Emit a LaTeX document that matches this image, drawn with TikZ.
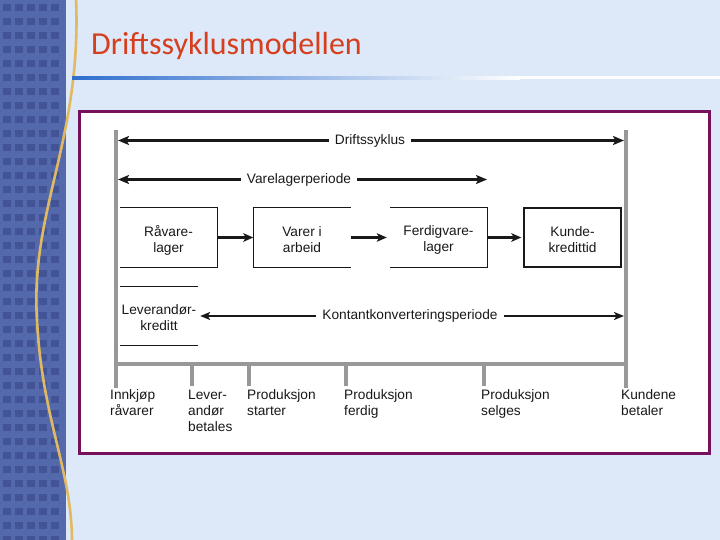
\documentclass[tikz,border=0pt]{standalone}
\usepackage{fontspec}
\setmainfont{Liberation Sans}
\newfontfamily\titlefont{Carlito}
\usetikzlibrary{arrows.meta}
\definecolor{bgblue}{RGB}{221,233,248}
\definecolor{stripblue}{RGB}{84,104,172}
\definecolor{winblue}{RGB}{66,84,150}
\definecolor{goldc}{RGB}{224,186,98}
\definecolor{titlered}{RGB}{214,62,30}
\definecolor{rulblue}{RGB}{46,110,206}
\definecolor{frameclr}{RGB}{118,18,92}
\definecolor{axisclr}{RGB}{152,152,152}
\definecolor{ink}{RGB}{25,25,25}
\begin{document}
\begin{tikzpicture}[x=1pt,y=-1pt,
  lbl/.style={font=\fontsize{13.7}{16}\selectfont, text=ink, inner sep=0pt, align=center},
  arrlbl/.style={lbl, inner xsep=6pt},
  bigarr/.style={draw=ink, line width=3.3pt, -{Stealth[length=11pt,width=9pt,inset=2.5pt]}},
  midarr/.style={draw=ink, line width=2.8pt, -{Stealth[length=10pt,width=8.5pt,inset=2.5pt]}},
  thinarr/.style={draw=ink, line width=2.3pt, -{Stealth[length=10pt,width=8pt,inset=2.5pt]}},
  boxline/.style={draw=ink, line width=1.3pt},
  axisline/.style={draw=axisclr, line width=4pt},
  stage/.style={inner sep=0pt, minimum width=97pt, minimum height=59pt},
  botlbl/.style={lbl, align=left, anchor=north west}]
\useasboundingbox (0,0) rectangle (720,540);
% background
\fill[bgblue] (0,0) rectangle (720,540);
\fill[stripblue] (0,0) rectangle (66,540);
\foreach \yy in {4,18,...,540} {
  \foreach \xx in {3,15,...,60} {
    \fill[winblue] (\xx,\yy) rectangle ++(8,7);
  }
}
\draw[goldc, line width=2.6pt] (76,-2) .. controls (82,140) and (30,210) .. (37,320) .. controls (42,420) and (72,470) .. (72,542);
% title
\node[anchor=base west, inner sep=0pt, text=titlered, font=\titlefont\fontsize{32}{36}\selectfont] (title) at (91,55) {Driftssyklusmodellen};
\shade[left color=rulblue, right color=white] (72,76.5) rectangle (520,79.5);
\fill[white] (520,76.5) rectangle (720,79.5);
% frame
\draw[frameclr, line width=3pt, fill=white] (79,112) rectangle (709,453);
% axis
\draw[axisline] (116,130) -- (116,388);
\draw[axisline] (626,130) -- (626,388);
\draw[axisline] (116,364) -- (626,364);
\foreach \tx in {192,249,346,484} { \draw[axisline] (\tx,364) -- (\tx,386); }
\coordinate (dsL) at (118,140.5);
\coordinate (dsR) at (624,140.5);
\coordinate (vlL) at (118,179.5);
\coordinate (vlR) at (487,179.5);
\coordinate (kkR) at (624,316);
% top arrows
\node[arrlbl] (ds) at (370,140.5) {Driftssyklus};
\draw[bigarr] (ds.west) -- (dsL);
\draw[bigarr] (ds.east) -- (dsR);
\node[arrlbl] (vl) at (299,179.5) {Varelagerperiode};
\draw[bigarr] (vl.west) -- (vlL);
\draw[bigarr] (vl.east) -- (vlR);
% stage boxes
\node[stage] (rv) at (168.5,237.5) {};
\node[stage] (va) at (302,237.5) {};
\node[stage] (fv) at (438.5,237.5) {};
\node[stage, boxline] (kd) at (572.5,237.5) {};
\node[lbl] (rvt) at ([yshift=-2.5pt]rv.center) {Råvare-\\lager};
\node[lbl] (vat) at ([yshift=-2.5pt]va.center) {Varer i\\arbeid};
\node[lbl] (fvt) at ([yshift=-2.5pt]fv.center) {Ferdigvare-\\lager};
\node[lbl] (kdt) at ([yshift=-2.5pt]kd.center) {Kunde-\\kredittid};
\draw[boxline] (rv.north west) -- (rv.north east) -- (rv.south east) -- (rv.south west);
\draw[boxline] (va.north east) -- (va.north west) -- (va.south west) -- (va.south east);
\draw[boxline] (fv.north west) -- (fv.north east) -- (fv.south east) -- (fv.south west);
\draw[midarr] (rv.east) -- (va.west);
\draw[midarr] (va.east) -- ([xshift=-3pt]fv.west);
\draw[midarr] (fv.east) -- ([xshift=-2pt]kd.west);
% leverandoerkreditt
\node[stage, minimum width=78pt] (lk) at (159,316) {};
\node[lbl] (lkt) at ([yshift=-1.5pt]lk.center) {Leverandør-\\kreditt};
\draw[boxline] (lk.north west) -- (lk.north east);
\draw[boxline] (lk.south west) -- (lk.south east);
\node[arrlbl] (kk) at (410,316) {Kontantkonverteringsperiode};
\draw[thinarr] (kk.west) -- ([xshift=2pt]lk.east);
\draw[thinarr] (kk.east) -- (kkR);
% bottom labels
\node[botlbl] (b1) at (110,389.5) {Innkjøp\\råvarer};
\node[botlbl] (b2) at (188,389.5) {Lever-\\andør\\betales};
\node[botlbl] (b3) at (247,389.5) {Produksjon\\starter};
\node[botlbl] (b4) at (344,389.5) {Produksjon\\ferdig};
\node[botlbl] (b5) at (481,389.5) {Produksjon\\selges};
\node[botlbl] (b6) at (621,389.5) {Kundene\\betaler};
\end{tikzpicture}
\end{document}
